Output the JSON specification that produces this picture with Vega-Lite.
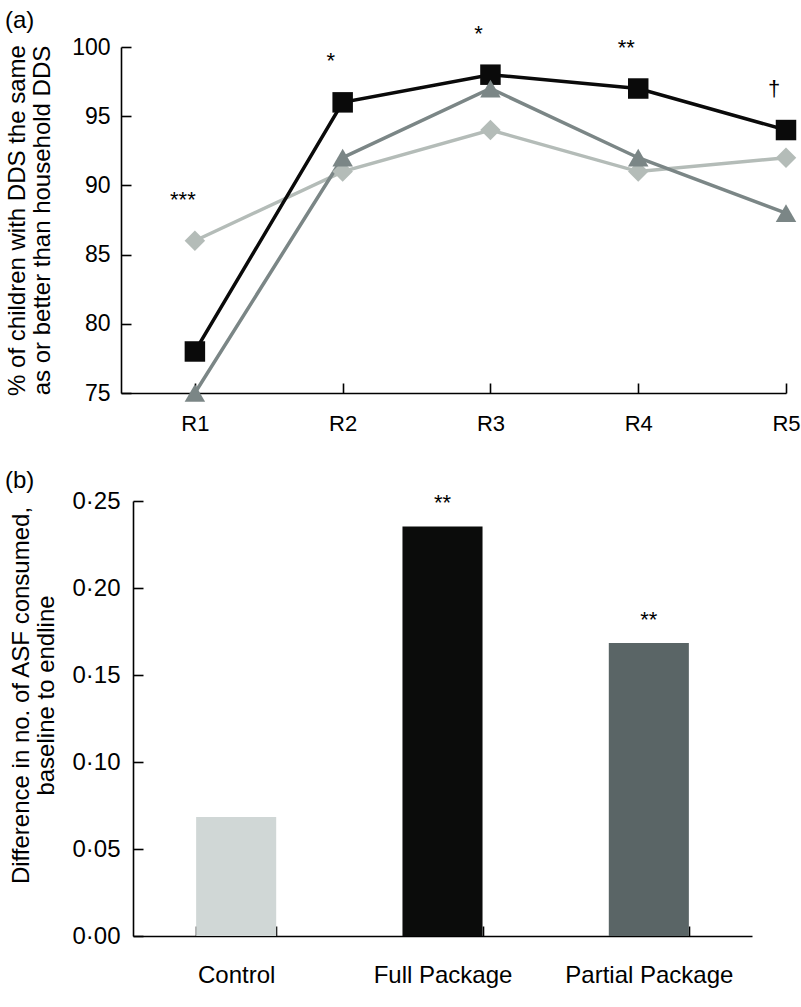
{
  "$schema": "https://vega.github.io/schema/vega-lite/v6.json",
  "padding": {"left": 5, "top": 8, "right": 5, "bottom": 5},
  "background": "white",
  "config": {
    "font": "Liberation Sans",
    "view": {"stroke": null},
    "axis": {
      "domainColor": "black", "domainWidth": 1.6,
      "tickColor": "black", "tickWidth": 1.6, "tickSize": -10,
      "labelColor": "black", "titleColor": "black",
      "labelFont": "Liberation Sans", "titleFont": "Liberation Sans",
      "titleFontWeight": "normal", "grid": false
    },
    "title": {"font": "Liberation Sans", "fontWeight": "normal", "fontSize": 24, "color": "black", "anchor": "start", "frame": "group"}
  },
  "vconcat": [
    {
      "width": 665,
      "height": 346,
      "title": {"text": "(a)", "dx": -116, "offset": -10},
      "data": {"values": [
        {"round": 1, "group": "Control", "pct": 86},
        {"round": 2, "group": "Control", "pct": 91},
        {"round": 3, "group": "Control", "pct": 94},
        {"round": 4, "group": "Control", "pct": 91},
        {"round": 5, "group": "Control", "pct": 92},
        {"round": 1, "group": "Full Package", "pct": 78},
        {"round": 2, "group": "Full Package", "pct": 96},
        {"round": 3, "group": "Full Package", "pct": 98},
        {"round": 4, "group": "Full Package", "pct": 97},
        {"round": 5, "group": "Full Package", "pct": 94},
        {"round": 1, "group": "Partial Package", "pct": 75},
        {"round": 2, "group": "Partial Package", "pct": 92},
        {"round": 3, "group": "Partial Package", "pct": 97},
        {"round": 4, "group": "Partial Package", "pct": 92},
        {"round": 5, "group": "Partial Package", "pct": 88}
      ]},
      "encoding": {
        "x": {
          "field": "round", "type": "quantitative",
          "scale": {"domain": [0.5, 5], "nice": false, "zero": false},
          "axis": {"title": null, "values": [1, 2, 3, 4, 5], "labelExpr": "'R' + datum.value", "labelFontSize": 22, "labelPadding": 30, "labelFlush": false}
        },
        "y": {
          "field": "pct", "type": "quantitative",
          "scale": {"domain": [75, 100], "nice": false, "zero": false},
          "axis": {
            "title": ["% of children with DDS the same", "as or better than household DDS"],
            "titleFontSize": 24, "titleLineHeight": 25, "titlePadding": 17,
            "values": [75, 80, 85, 90, 95, 100], "labelFontSize": 23, "labelPadding": 21
          }
        },
        "color": {
          "field": "group", "type": "nominal",
          "scale": {"domain": ["Full Package", "Partial Package", "Control"], "range": ["#0a0a0a", "#7b8686", "#b4bcb8"]},
          "legend": null
        },
        "order": {"field": "round"}
      },
      "layer": [
        {
          "mark": {"type": "line", "strokeWidth": 3.5},
          "encoding": {"detail": {"field": "group"}}
        },
        {
          "mark": {"type": "point", "filled": true, "opacity": 1, "size": 420},
          "encoding": {
            "shape": {
              "field": "group", "type": "nominal",
              "scale": {"domain": ["Full Package", "Partial Package", "Control"], "range": ["square", "triangle-up", "diamond"]},
              "legend": null
            }
          }
        },
        {
          "data": {"values": [
            {"round": 1, "sig": "***", "top": 86},
            {"round": 2, "sig": "*", "top": 96},
            {"round": 3, "sig": "*", "top": 98},
            {"round": 4, "sig": "**", "top": 97},
            {"round": 5, "sig": "†", "top": 94}
          ]},
          "mark": {"type": "text", "fontSize": 22, "dx": -12, "dy": -34, "baseline": "alphabetic", "color": "black"},
          "encoding": {
            "x": {"field": "round", "type": "quantitative"},
            "y": {"field": "top", "type": "quantitative"},
            "text": {"field": "sig"},
            "color": {"value": "black"},
            "order": null
          }
        }
      ]
    },
    {
      "width": 631,
      "height": 435,
      "title": {"text": "(b)", "dx": -116, "offset": -4},
      "data": {"values": [
        {"group": "Control", "diff": 0.0684, "sig": ""},
        {"group": "Full Package", "diff": 0.2354, "sig": "**"},
        {"group": "Partial Package", "diff": 0.1684, "sig": "**"}
      ]},
      "encoding": {
        "x": {
          "field": "group", "type": "nominal", "sort": null,
          "scale": {"range": [12, 631], "paddingInner": 0.612, "paddingOuter": 0.306},
          "axis": {"title": null, "labelAngle": 0, "labelFontSize": 24, "labelPadding": 37, "tickBand": "extent"}
        },
        "y": {
          "field": "diff", "type": "quantitative",
          "scale": {"domain": [0, 0.25], "nice": false},
          "axis": {
            "title": ["Difference in no. of ASF consumed,", "baseline to endline"],
            "titleFontSize": 24, "titleLineHeight": 25, "titlePadding": 13, "titleY": 194,
            "offset": -12,
            "values": [0, 0.05, 0.1, 0.15, 0.2, 0.25],
            "labelExpr": "replace(format(datum.value, '.2f'), '.', '·')",
            "labelFontSize": 24, "labelPadding": 23
          }
        }
      },
      "layer": [
        {
          "mark": {"type": "bar"},
          "encoding": {
            "color": {
              "field": "group", "type": "nominal",
              "scale": {"domain": ["Control", "Full Package", "Partial Package"], "range": ["#d0d7d6", "#0b0c0b", "#5a6566"]},
              "legend": null
            }
          }
        },
        {
          "mark": {"type": "text", "fontSize": 22, "dy": -16, "baseline": "alphabetic", "color": "black"},
          "encoding": {"text": {"field": "sig"}}
        }
      ]
    }
  ],
  "spacing": 35,
  "resolve": {"scale": {"color": "independent", "shape": "independent"}}
}
